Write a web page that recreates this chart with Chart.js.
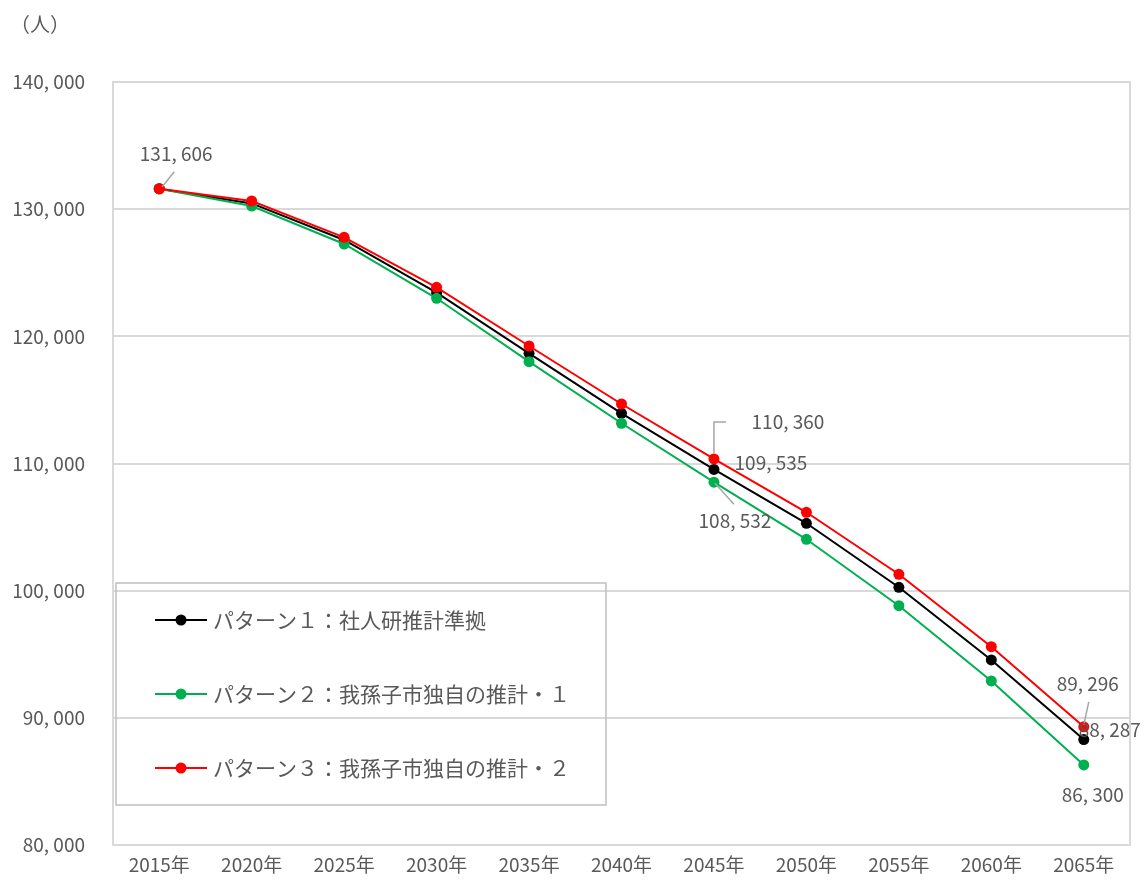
<!DOCTYPE html>
<html>
<head>
<meta charset="utf-8">
<script src="https://cdn.jsdelivr.net/npm/chart.js@4.4.1/dist/chart.umd.min.js"></script>
<style>
    body { margin: 0; background: #fff; overflow: hidden; }
    canvas { display: block; }
</style>
</head>
<body>
<canvas id="popChart" width="1147" height="881"></canvas>
<script>
const years = ['2015年', '2020年', '2025年', '2030年', '2035年', '2040年', '2045年', '2050年', '2055年', '2060年', '2065年'];
const seriesNames = ['パターン１：社人研推計準拠', 'パターン２：我孫子市独自の推計・１', 'パターン３：我孫子市独自の推計・２'];
const pattern1 = [131606, 130450, 127576, 123432, 118666, 113948, 109535, 105298, 100266, 94549, 88287];
const pattern2 = [131606, 130249, 127261, 122991, 118006, 113162, 108532, 104040, 98819, 92898, 86300];
const pattern3 = [131606, 130642, 127788, 123856, 119240, 114680, 110360, 106163, 101288, 95595, 89296];
const yTicks = [80000, 90000, 100000, 110000, 120000, 130000, 140000];
const unitLabel = '（人）';

const textColor = '#595959';
const fontFamily = "'Noto Sans CJK JP', sans-serif";

function fmt(v) {
    return v.toLocaleString('en-US').replace(/,/g, ', ');
}

// callouts: which points get a value label, where the text sits and its leader line
const callouts = [
    { ds: 2, i: 0, dx: 17, dy: -35, leader: [[15, -17], [3, -2]] },
    { ds: 2, i: 6, dx: 74, dy: -37, leader: [[12, -37], [0, -37], [0, -6]] },
    { ds: 0, i: 6, dx: 57, dy: -7 },
    { ds: 1, i: 6, dx: 21, dy: 39, leader: [[1, 1], [20, 22]] },
    { ds: 2, i: 10, dx: 4, dy: -43, leader: [[5, -25], [0, -2]] },
    { ds: 0, i: 10, dx: 26, dy: -10 },
    { ds: 1, i: 10, dx: 9, dy: 30 },
];

const extras = {
    id: 'extras',
    beforeDatasetsDraw(chart) {
        const ctx = chart.ctx, a = chart.chartArea;
        ctx.save();
        ctx.strokeStyle = '#d9d9d9';
        ctx.lineWidth = 2;
        ctx.strokeRect(a.left, a.top, a.right - a.left, a.bottom - a.top);
        ctx.restore();
    },
    afterDatasetsDraw(chart) {
        const ctx = chart.ctx, a = chart.chartArea;
        ctx.save();
        // unit label
        ctx.fillStyle = textColor;
        ctx.font = '20px ' + fontFamily;
        ctx.textAlign = 'center';
        ctx.textBaseline = 'middle';
        ctx.fillText(unitLabel, 40, 24);

        // value labels
        ctx.font = '19px ' + fontFamily;
        callouts.forEach(c => {
            const pt = chart.getDatasetMeta(c.ds).data[c.i];
            const val = chart.data.datasets[c.ds].data[c.i];
            if (c.leader) {
                ctx.strokeStyle = '#a6a6a6';
                ctx.lineWidth = 1.5;
                ctx.beginPath();
                c.leader.forEach((p, k) => {
                    if (k === 0) ctx.moveTo(pt.x + p[0], pt.y + p[1]);
                    else ctx.lineTo(pt.x + p[0], pt.y + p[1]);
                });
                ctx.stroke();
            }
            ctx.fillStyle = textColor;
            ctx.fillText(fmt(val), pt.x + c.dx, pt.y + c.dy);
        });

        // legend box inside the plot
        const bx = a.left + 3, by = 583, bw = 490, bh = 222;
        ctx.strokeStyle = '#bfbfbf';
        ctx.lineWidth = 1.5;
        ctx.strokeRect(bx, by, bw, bh);
        const rows = [620, 694, 768];
        ctx.font = '21px ' + fontFamily;
        ctx.textAlign = 'left';
        chart.data.datasets.forEach((ds, k) => {
            const y = rows[k];
            ctx.strokeStyle = ds.borderColor;
            ctx.lineWidth = 2;
            ctx.beginPath();
            ctx.moveTo(bx + 39, y);
            ctx.lineTo(bx + 91, y);
            ctx.stroke();
            ctx.fillStyle = ds.borderColor;
            ctx.beginPath();
            ctx.arc(bx + 65, y, 5.5, 0, Math.PI * 2);
            ctx.fill();
            ctx.fillStyle = textColor;
            ctx.fillText(ds.label, bx + 97, y);
        });
        ctx.restore();
    }
};

function makeSet(label, data, color, order) {
    return {
        label: label,
        data: data,
        borderColor: color,
        backgroundColor: color,
        pointBackgroundColor: color,
        pointBorderWidth: 0,
        pointRadius: 5.5,
        borderWidth: 2,
        tension: 0,
        order: order
    };
}

const config = {
    type: 'line',
    data: {
        labels: years,
        datasets: [
            makeSet(seriesNames[0], pattern1, '#000000', 2),
            makeSet(seriesNames[1], pattern2, '#00b050', 1),
            makeSet(seriesNames[2], pattern3, '#ff0000', 0),
        ]
    },
    options: {
        responsive: false,
        animation: false,
        layout: { padding: { top: 82, right: 17, left: 0, bottom: 0 } },
        plugins: {
            legend: { display: false },
            tooltip: { enabled: false }
        },
        scales: {
            x: {
                offset: true,
                grid: { display: false, drawTicks: false },
                border: { display: false },
                ticks: {
                    color: textColor,
                    font: { size: 19, family: fontFamily },
                    padding: 8,
                    maxRotation: 0
                },
                afterFit(s) { s.height = 36; }
            },
            y: {
                min: yTicks[0],
                max: yTicks[yTicks.length - 1],
                afterBuildTicks(s) { s.ticks = yTicks.map(v => ({ value: v })); },
                grid: { color: '#d9d9d9', lineWidth: 2, drawTicks: false },
                border: { display: false },
                ticks: {
                    color: textColor,
                    font: { size: 19, family: fontFamily },
                    padding: 28,
                    callback: v => fmt(v)
                },
                afterFit(s) {
                    s.width = 113;
                    s.paddingTop = 0;
                    s.paddingBottom = 0;
                }
            }
        }
    },
    plugins: [extras]
};

new Chart(document.getElementById('popChart'), config);
</script>
</body>
</html>
